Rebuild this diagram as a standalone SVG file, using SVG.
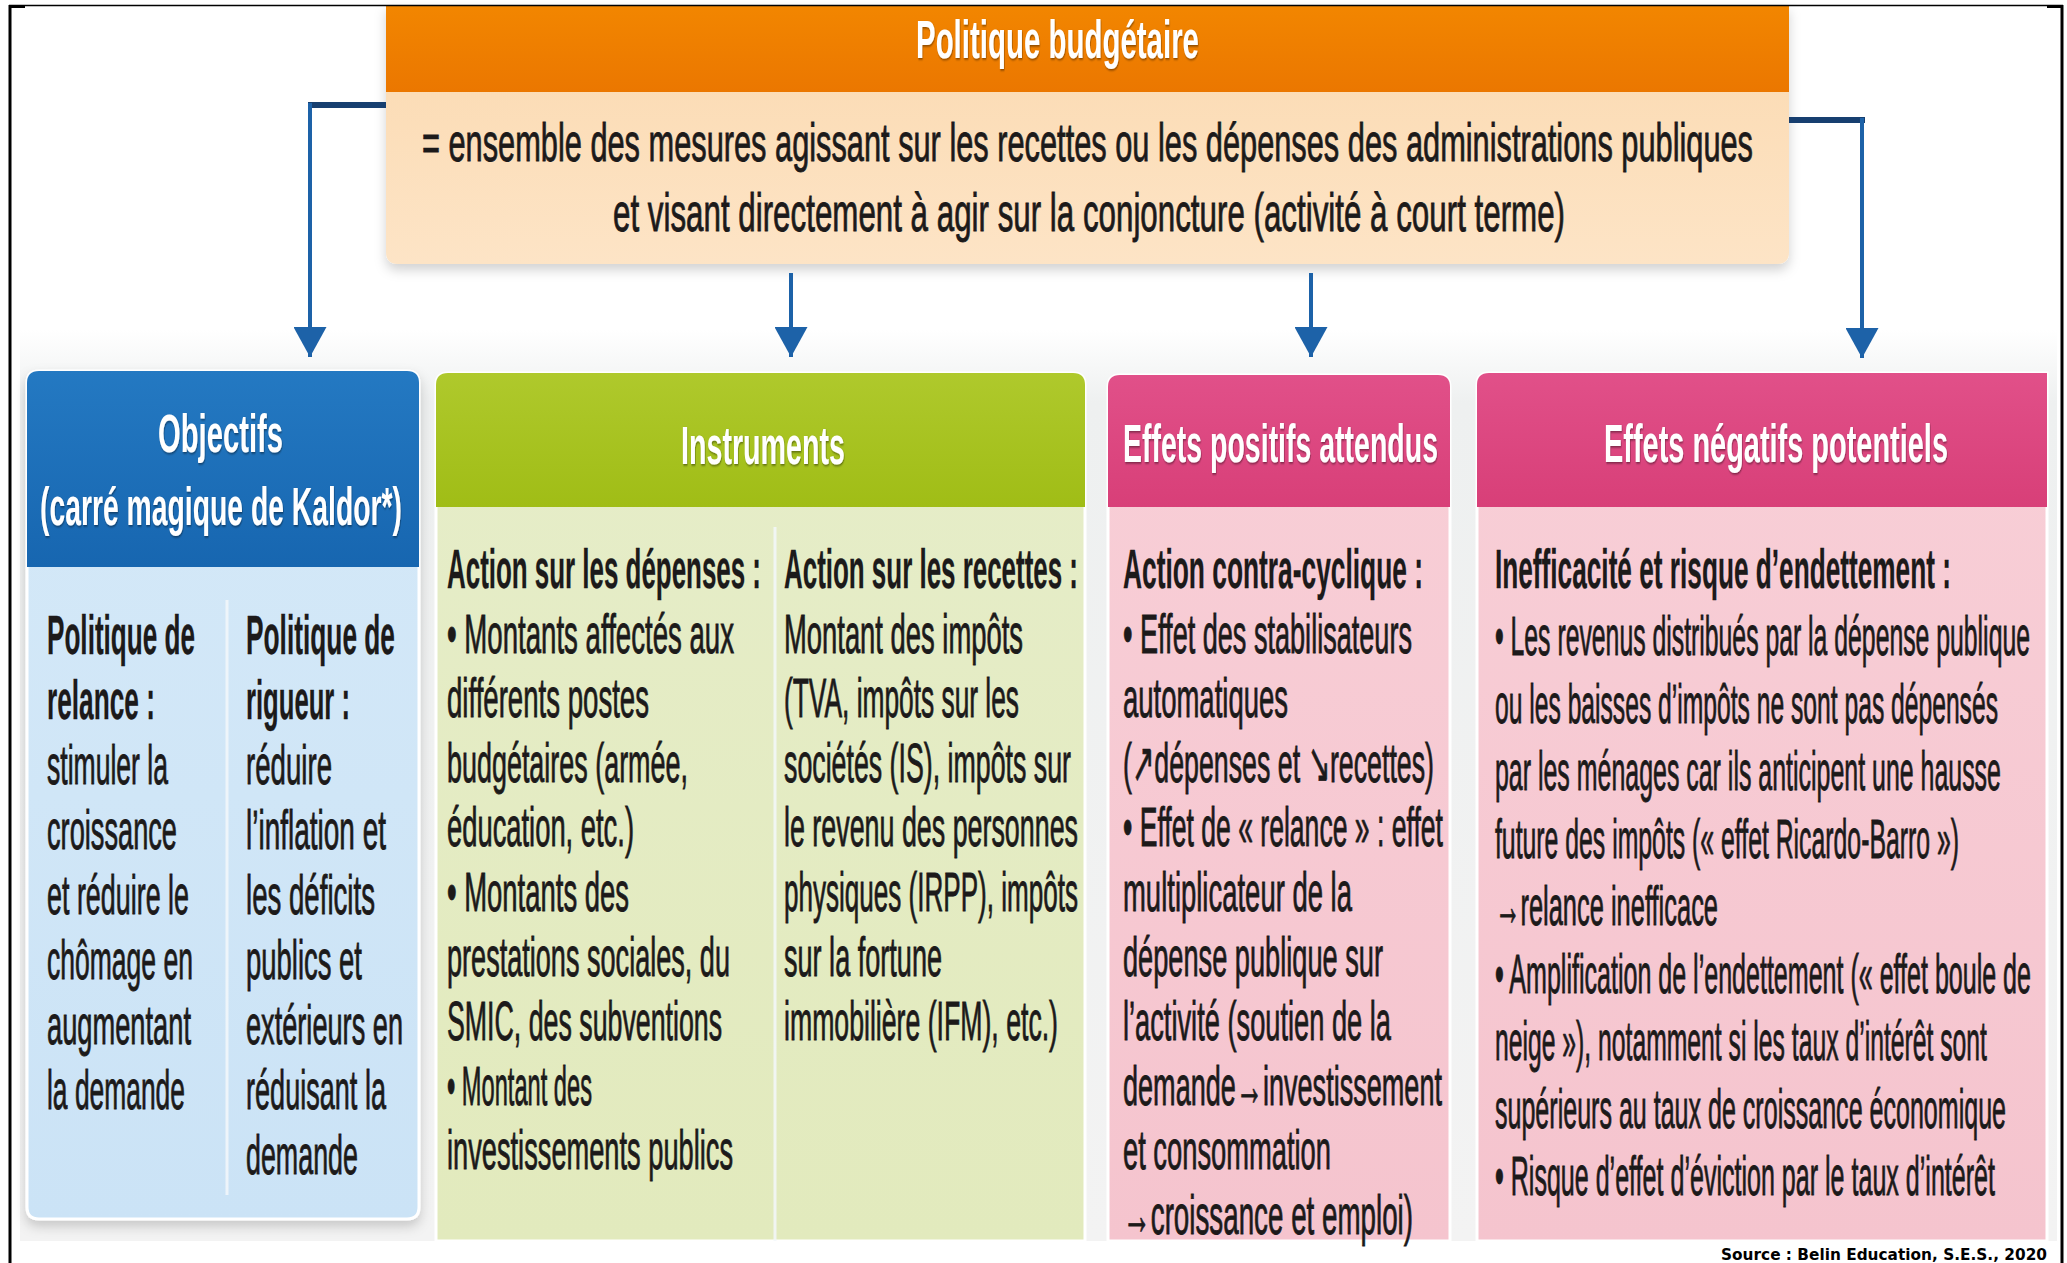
<svg xmlns="http://www.w3.org/2000/svg" width="2067" height="1263" viewBox="0 0 2067 1263">
<defs>
<style>
.t{font-family:"Liberation Sans",Arial,sans-serif;font-size:56px;fill:#1c1a1a;stroke:#1c1a1a;stroke-width:0.9}
.b{font-weight:bold;stroke-width:0.3}
.ti{font-family:"Liberation Sans",Arial,sans-serif;font-weight:bold;font-size:54px;fill:#ffffff;filter:url(#ts)}
.hd{font-family:"Liberation Sans",Arial,sans-serif;font-size:54px;fill:#1c1a1a;stroke:#1c1a1a;stroke-width:0.9}
.vl{stroke:#1d62a8;stroke-width:4;fill:none}
.stub{stroke:#173f70;stroke-width:6;fill:none}
.div{stroke:#f4f8fb;stroke-width:3;opacity:0.85}
.frame{stroke:#000;fill:none}
</style>
<filter id="ts" x="-5%" y="-20%" width="110%" height="140%"><feDropShadow dx="1" dy="1.5" stdDeviation="1" flood-color="#000" flood-opacity="0.45"/></filter>
<filter id="sh" x="-5%" y="-5%" width="110%" height="115%"><feDropShadow dx="0" dy="6" stdDeviation="6" flood-color="#000" flood-opacity="0.18"/></filter>
<linearGradient id="gOr" x1="0" y1="0" x2="0" y2="1"><stop offset="0" stop-color="#f28600"/><stop offset="1" stop-color="#eb7700"/></linearGradient>
<linearGradient id="gOrL" x1="0" y1="0" x2="0" y2="1"><stop offset="0" stop-color="#fbd9af"/><stop offset="1" stop-color="#fde4c6"/></linearGradient>
<linearGradient id="gBl" x1="0" y1="0" x2="0" y2="1"><stop offset="0" stop-color="#2479c2"/><stop offset="1" stop-color="#1766b0"/></linearGradient>
<linearGradient id="gBlL" x1="0" y1="0" x2="0" y2="1"><stop offset="0" stop-color="#d5e9f8"/><stop offset="1" stop-color="#cbe3f6"/></linearGradient>
<linearGradient id="gGr" x1="0" y1="0" x2="0" y2="1"><stop offset="0" stop-color="#afc92c"/><stop offset="1" stop-color="#a0bd16"/></linearGradient>
<linearGradient id="gGrL" x1="0" y1="0" x2="0" y2="1"><stop offset="0" stop-color="#e6edc9"/><stop offset="1" stop-color="#e2eabd"/></linearGradient>
<linearGradient id="gPk" x1="0" y1="0" x2="0" y2="1"><stop offset="0" stop-color="#e15089"/><stop offset="1" stop-color="#d83f78"/></linearGradient>
<linearGradient id="gPkL" x1="0" y1="0" x2="0" y2="1"><stop offset="0" stop-color="#f8cfd7"/><stop offset="1" stop-color="#f5c4ce"/></linearGradient>
<linearGradient id="gBack" x1="0" y1="0" x2="0" y2="1"><stop offset="0" stop-color="#ffffff"/><stop offset="0.08" stop-color="#eef0f0"/><stop offset="1" stop-color="#f3f3f3"/></linearGradient>
<marker id="ah" viewBox="0 0 30 33" refX="30" refY="16.5" markerWidth="30" markerHeight="33" markerUnits="userSpaceOnUse" orient="auto"><path d="M0,0 L30,16.5 L0,33 Z" fill="#1d62a8"/></marker>
</defs>

<rect x="0" y="0" width="2067" height="1263" fill="#ffffff"/>
<rect x="20" y="330" width="2037" height="911" fill="url(#gBack)"/>

<g id="header">
<g filter="url(#sh)">
<path d="M386,5 H1789 V252 Q1789,264 1777,264 H398 Q386,264 386,252 Z" fill="url(#gOrL)"/>
</g>
<rect x="386" y="5" width="1403" height="87" fill="url(#gOr)"/>
<g transform="scale(0.5,1)">
<text class="ti" x="1832" y="58" font-size="57" textLength="566" lengthAdjust="spacingAndGlyphs">Politique budgétaire</text>
<text class="hd" x="844" y="161" textLength="2662" lengthAdjust="spacingAndGlyphs">= ensemble des mesures agissant sur les recettes ou les dépenses des administrations publiques</text>
<text class="hd" x="1226" y="231" textLength="1904" lengthAdjust="spacingAndGlyphs">et visant directement à agir sur la conjoncture (activité à court terme)</text>
</g>
</g>

<g id="connectors">
<line class="stub" x1="386" y1="105" x2="308" y2="105"/>
<path class="vl" d="M310,103 V357" marker-end="url(#ah)"/>
<path class="vl" d="M791,273 V357" marker-end="url(#ah)"/>
<path class="vl" d="M1311,273 V357" marker-end="url(#ah)"/>
<line class="stub" x1="1789" y1="120" x2="1865" y2="120"/>
<path class="vl" d="M1862,118 V358" marker-end="url(#ah)"/>
</g>

<g id="objectifs">
<g filter="url(#sh)">
<path d="M27,383 Q27,371 39,371 H407 Q419,371 419,383 V1207 Q419,1219 407,1219 H39 Q27,1219 27,1207 Z" fill="url(#gBlL)" stroke="#ffffff" stroke-width="3"/>
</g>
<path d="M27,383 Q27,371 39,371 H407 Q419,371 419,383 V567 H27 Z" fill="url(#gBl)"/>
<line class="div" x1="227" y1="600" x2="227" y2="1195"/>
<g transform="scale(0.5,1)">
<text class="ti" x="316" y="452" textLength="250" lengthAdjust="spacingAndGlyphs">Objectifs</text>
<text class="ti" x="80" y="525" textLength="724" lengthAdjust="spacingAndGlyphs">(carré magique de Kaldor*)</text>
<text class="t b" x="94" y="654" textLength="296" lengthAdjust="spacingAndGlyphs">Politique de</text>
<text class="t b" x="94" y="719" textLength="216" lengthAdjust="spacingAndGlyphs">relance :</text>
<text class="t" x="94" y="784" textLength="242" lengthAdjust="spacingAndGlyphs">stimuler la</text>
<text class="t" x="94" y="849" textLength="260" lengthAdjust="spacingAndGlyphs">croissance</text>
<text class="t" x="94" y="914" textLength="284" lengthAdjust="spacingAndGlyphs">et réduire le</text>
<text class="t" x="94" y="979" textLength="292" lengthAdjust="spacingAndGlyphs">chômage en</text>
<text class="t" x="94" y="1044" textLength="288" lengthAdjust="spacingAndGlyphs">augmentant</text>
<text class="t" x="94" y="1109" textLength="276" lengthAdjust="spacingAndGlyphs">la demande</text>
<text class="t b" x="492" y="654" textLength="298" lengthAdjust="spacingAndGlyphs">Politique de</text>
<text class="t b" x="492" y="719" textLength="208" lengthAdjust="spacingAndGlyphs">rigueur :</text>
<text class="t" x="492" y="784" textLength="172" lengthAdjust="spacingAndGlyphs">réduire</text>
<text class="t" x="492" y="849" textLength="280" lengthAdjust="spacingAndGlyphs">l’inflation et</text>
<text class="t" x="492" y="914" textLength="258" lengthAdjust="spacingAndGlyphs">les déficits</text>
<text class="t" x="492" y="979" textLength="232" lengthAdjust="spacingAndGlyphs">publics et</text>
<text class="t" x="492" y="1044" textLength="314" lengthAdjust="spacingAndGlyphs">extérieurs en</text>
<text class="t" x="492" y="1109" textLength="280" lengthAdjust="spacingAndGlyphs">réduisant la</text>
<text class="t" x="492" y="1174" textLength="224" lengthAdjust="spacingAndGlyphs">demande</text>
</g>
</g>

<g id="instruments">
<path d="M436,385 Q436,373 448,373 H1073 Q1085,373 1085,385 V1241 H436 Z" fill="url(#gGrL)" stroke="#ffffff" stroke-width="3"/>
<path d="M436,385 Q436,373 448,373 H1073 Q1085,373 1085,385 V507 H436 Z" fill="url(#gGr)"/>
<line class="div" x1="775" y1="527" x2="775" y2="1241"/>
<g transform="scale(0.5,1)">
<text class="ti" x="1362" y="464" textLength="328" lengthAdjust="spacingAndGlyphs">Instruments</text>
<text class="t b" x="894" y="588" textLength="628" lengthAdjust="spacingAndGlyphs">Action sur les dépenses :</text>
<text class="t" x="894" y="653" textLength="574" lengthAdjust="spacingAndGlyphs">• Montants affectés aux</text>
<text class="t" x="894" y="717" textLength="404" lengthAdjust="spacingAndGlyphs">différents postes</text>
<text class="t" x="894" y="782" textLength="482" lengthAdjust="spacingAndGlyphs">budgétaires (armée,</text>
<text class="t" x="894" y="846" textLength="374" lengthAdjust="spacingAndGlyphs">éducation, etc.)</text>
<text class="t" x="894" y="911" textLength="364" lengthAdjust="spacingAndGlyphs">• Montants des</text>
<text class="t" x="894" y="976" textLength="566" lengthAdjust="spacingAndGlyphs">prestations sociales, du</text>
<text class="t" x="894" y="1040" textLength="550" lengthAdjust="spacingAndGlyphs">SMIC, des subventions</text>
<text class="t" x="894" y="1105" textLength="290" lengthAdjust="spacingAndGlyphs">• Montant des</text>
<text class="t" x="894" y="1169" textLength="572" lengthAdjust="spacingAndGlyphs">investissements publics</text>
<text class="t b" x="1568" y="588" textLength="588" lengthAdjust="spacingAndGlyphs">Action sur les recettes :</text>
<text class="t" x="1568" y="653" textLength="478" lengthAdjust="spacingAndGlyphs">Montant des impôts</text>
<text class="t" x="1568" y="717" textLength="470" lengthAdjust="spacingAndGlyphs">(TVA, impôts sur les</text>
<text class="t" x="1568" y="782" textLength="574" lengthAdjust="spacingAndGlyphs">sociétés (IS), impôts sur</text>
<text class="t" x="1568" y="846" textLength="588" lengthAdjust="spacingAndGlyphs">le revenu des personnes</text>
<text class="t" x="1568" y="911" textLength="588" lengthAdjust="spacingAndGlyphs">physiques (IRPP), impôts</text>
<text class="t" x="1568" y="976" textLength="316" lengthAdjust="spacingAndGlyphs">sur la fortune</text>
<text class="t" x="1568" y="1040" textLength="548" lengthAdjust="spacingAndGlyphs">immobilière (IFM), etc.)</text>
</g>
</g>

<g id="effets-positifs">
<path d="M1108,387 Q1108,375 1120,375 H1438 Q1450,375 1450,387 V1241 H1108 Z" fill="url(#gPkL)" stroke="#ffffff" stroke-width="3"/>
<path d="M1108,387 Q1108,375 1120,375 H1438 Q1450,375 1450,387 V507 H1108 Z" fill="url(#gPk)"/>
<g transform="scale(0.5,1)">
<text class="ti" x="2246" y="462" textLength="630" lengthAdjust="spacingAndGlyphs">Effets positifs attendus</text>
<text class="t b" x="2246" y="588" textLength="600" lengthAdjust="spacingAndGlyphs">Action contra-cyclique :</text>
<text class="t" x="2246" y="653" textLength="578" lengthAdjust="spacingAndGlyphs">• Effet des stabilisateurs</text>
<text class="t" x="2246" y="717" textLength="330" lengthAdjust="spacingAndGlyphs">automatiques</text>
<text class="t" x="2246" y="782" textLength="622" lengthAdjust="spacingAndGlyphs">(↗dépenses et ↘recettes)</text>
<text class="t" x="2246" y="846" textLength="640" lengthAdjust="spacingAndGlyphs">• Effet de « relance » : effet</text>
<text class="t" x="2246" y="911" textLength="458" lengthAdjust="spacingAndGlyphs">multiplicateur de la</text>
<text class="t" x="2246" y="976" textLength="520" lengthAdjust="spacingAndGlyphs">dépense publique sur</text>
<text class="t" x="2246" y="1040" textLength="536" lengthAdjust="spacingAndGlyphs">l’activité (soutien de la</text>
<text class="t" x="2246" y="1105" textLength="638" lengthAdjust="spacingAndGlyphs">demande→investissement</text>
<text class="t" x="2246" y="1169" textLength="416" lengthAdjust="spacingAndGlyphs">et consommation</text>
<text class="t" x="2246" y="1234" textLength="580" lengthAdjust="spacingAndGlyphs">→croissance et emploi)</text>
</g>
</g>

<g id="effets-negatifs">
<path d="M1477,385 Q1477,373 1489,373 H2047 V1241 H1477 Z" fill="url(#gPkL)" stroke="#ffffff" stroke-width="3"/>
<path d="M1477,385 Q1477,373 1489,373 H2047 V507 H1477 Z" fill="url(#gPk)"/>
<g transform="scale(0.5,1)">
<text class="ti" x="3208" y="462" textLength="688" lengthAdjust="spacingAndGlyphs">Effets négatifs potentiels</text>
</g>
<g transform="scale(0.45,1)">
<text class="t b" x="3322.2" y="588" textLength="1013.3" lengthAdjust="spacingAndGlyphs">Inefficacité et risque d’endettement :</text>
<text class="t" x="3322.2" y="655" textLength="1188.9" lengthAdjust="spacingAndGlyphs">• Les revenus distribués par la dépense publique</text>
<text class="t" x="3322.2" y="723" textLength="1117.8" lengthAdjust="spacingAndGlyphs">ou les baisses d’impôts ne sont pas dépensés</text>
<text class="t" x="3322.2" y="790" textLength="1124.4" lengthAdjust="spacingAndGlyphs">par les ménages car ils anticipent une hausse</text>
<text class="t" x="3322.2" y="858" textLength="1031.1" lengthAdjust="spacingAndGlyphs">future des impôts (« effet Ricardo-Barro »)</text>
<text class="t" x="3322.2" y="925" textLength="495.6" lengthAdjust="spacingAndGlyphs">→relance inefficace</text>
<text class="t" x="3322.2" y="993" textLength="1191.1" lengthAdjust="spacingAndGlyphs">• Amplification de l’endettement (« effet boule de</text>
<text class="t" x="3322.2" y="1060" textLength="1093.3" lengthAdjust="spacingAndGlyphs">neige »), notamment si les taux d’intérêt sont</text>
<text class="t" x="3322.2" y="1128" textLength="1135.6" lengthAdjust="spacingAndGlyphs">supérieurs au taux de croissance économique</text>
<text class="t" x="3322.2" y="1195" textLength="1111.1" lengthAdjust="spacingAndGlyphs">• Risque d’effet d’éviction par le taux d’intérêt</text>
</g>
</g>

<g id="source">
<text x="1721" y="1260" font-family="'DejaVu Sans',Verdana,sans-serif" font-weight="bold" font-size="15" fill="#000" textLength="326" lengthAdjust="spacingAndGlyphs">Source : Belin Education, S.E.S., 2020</text>
</g>

<g id="frame">
<line class="frame" x1="9" y1="5.5" x2="2063" y2="5.5" stroke-width="1.5"/>
<line class="frame" x1="10" y1="5" x2="10" y2="1263" stroke-width="3"/>
<line class="frame" x1="2062" y1="5" x2="2062" y2="1263" stroke-width="3"/>
<line class="frame" x1="9" y1="6.5" x2="25" y2="6.5" stroke-width="3"/>
<line class="frame" x1="2047" y1="6.5" x2="2063" y2="6.5" stroke-width="3"/>
</g>
</svg>
